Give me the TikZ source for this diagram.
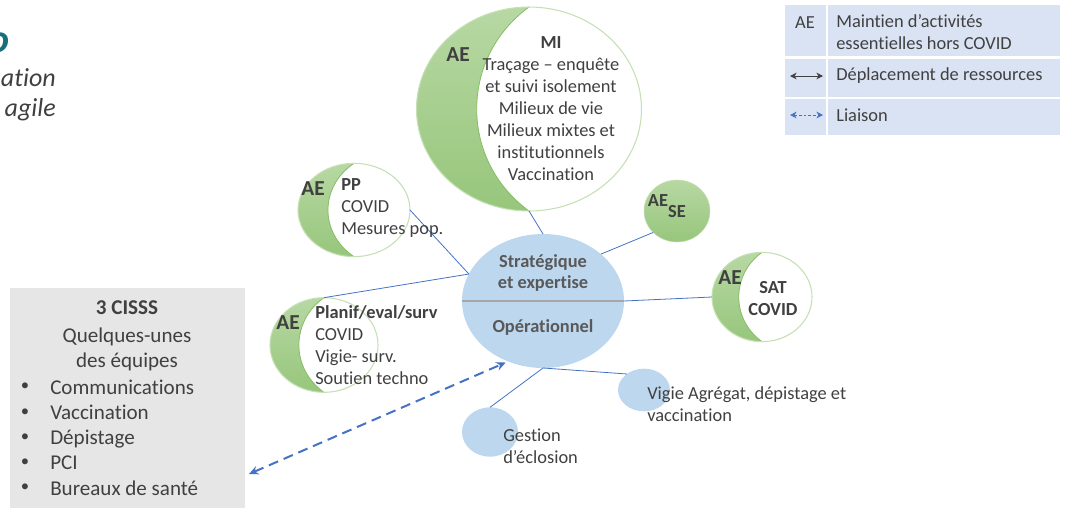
\documentclass[tikz,border=0pt]{standalone}
\usepackage{fontspec}
\setmainfont[Ligatures=NoCommon]{Carlito}
\usepackage{tikz}
\usetikzlibrary{positioning}
\usetikzlibrary{shapes.geometric}
\usetikzlibrary{calc}
\usetikzlibrary{arrows.meta}

\definecolor{txtgrey}{HTML}{404040}
\definecolor{ctrgrey}{HTML}{595959}
\definecolor{ctrblue}{HTML}{BDD7EE}
\definecolor{linkblue}{HTML}{4472C4}
\definecolor{moonline}{HTML}{C5E0B4}
\definecolor{moonedge}{HTML}{86BE63}
\definecolor{aetop}{HTML}{B7D8A3}
\definecolor{aebot}{HTML}{97C67C}
\definecolor{boxgrey}{HTML}{E7E6E6}
\definecolor{legblue}{HTML}{DAE3F3}
\definecolor{titleteal}{HTML}{17707A}

\tikzset{bubble/.style={ellipse,inner sep=0pt,outer sep=0pt}}
\tikzset{moon/.style={bubble,draw=moonline,line width=0.8pt,fill=white,
  path picture={
    \shade[top color=aetop,bottom color=aebot]
      let \p1=(path picture bounding box.south west),
          \p2=(path picture bounding box.north east) in
      ({0.5*\x1+0.5*\x2},\y2) -- (\x1,\y2) -- (\x1,\y1) -- ({0.5*\x1+0.5*\x2},\y1)
      .. controls ({0.81*\x1+0.19*\x2},{0.75*\y1+0.25*\y2}) and ({0.81*\x1+0.19*\x2},{0.25*\y1+0.75*\y2}) .. ({0.5*\x1+0.5*\x2},\y2) -- cycle;
    \draw[moonedge,line width=0.6pt]
      let \p1=(path picture bounding box.south west),
          \p2=(path picture bounding box.north east) in
      ({0.5*\x1+0.5*\x2},\y1)
      .. controls ({0.81*\x1+0.19*\x2},{0.75*\y1+0.25*\y2}) and ({0.81*\x1+0.19*\x2},{0.25*\y1+0.75*\y2}) .. ({0.5*\x1+0.5*\x2},\y2);}}}
\tikzset{txt/.style={font=\fontsize{13.8}{16.5}\selectfont,text=txtgrey,inner sep=0pt,align=center}}
\tikzset{aelbl/.style={font=\fontsize{16}{19}\selectfont\bfseries,text=txtgrey,inner sep=0pt}}
\tikzset{ctrtxt/.style={txt,font=\fontsize{13.8}{16}\selectfont\bfseries,text=ctrgrey}}
\tikzset{boxtxt/.style={font=\fontsize{15.8}{18.9}\selectfont,text=txtgrey,inner sep=0pt,align=center}}
\tikzset{legcell/.style={rectangle,fill=legblue,inner sep=0pt,outer sep=0pt}}
\tikzset{lien/.style={draw=linkblue,line width=0.6pt}}
\tikzset{liaison/.style={{Stealth[length=7pt,width=6.5pt]}-{Stealth[length=7pt,width=6.5pt]},draw=linkblue,line width=1.5pt,dash pattern=on 7.5pt off 4.5pt}}
\tikzset{deplace/.style={{Stealth[length=5pt,width=5pt]}-{Stealth[length=5pt,width=5pt]},draw=txtgrey,line width=0.7pt}}

\newcommand{\puce}{{\fontsize{12.5}{12.5}\selectfont\textbullet}}

\begin{document}
\begin{tikzpicture}[x=0.75pt,y=-0.75pt]
		\useasboundingbox (0,0) rectangle (1067,508);

		% bits of the slide title
		\node[anchor=east,inner sep=0pt,font=\fontsize{30}{36}\selectfont\bfseries\itshape,text=titleteal] (frag0) at (10,43) {o};
		\node[anchor=east,inner sep=0pt,font=\fontsize{19.5}{23}\selectfont\itshape,text=txtgrey] (frag1) at (56,78) {ation};
		\node[anchor=east,inner sep=0pt,font=\fontsize{19.5}{23}\selectfont\itshape,text=txtgrey] (frag2) at (56,110) {agile};

		% bubbles
		\node[moon,minimum width=168.75pt,minimum height=153pt] (mi) at (529,109) {};
		\node[moon,minimum width=84pt,minimum height=70pt] (pp) at (354,210) {};
		\node[moon,minimum width=81pt,minimum height=71pt] (pl) at (324,345) {};
		\node[moon,minimum width=75pt,minimum height=67pt] (sat) at (762,297) {};
		\node[bubble,top color=aetop,bottom color=aebot,draw=moonline,minimum width=49.5pt,minimum height=46.5pt] (se) at (677,211) {};
		\node[bubble,fill=ctrblue,minimum width=121.5pt,minimum height=100.5pt] (ctr) at (543,301) {};
		\node[bubble,fill=ctrblue,minimum width=39pt,minimum height=32pt] (vg) at (644,390) {};
		\node[bubble,fill=ctrblue,minimum width=42pt,minimum height=37pt] (ge) at (490,432) {};

		\draw[line width=1.5pt,draw=black!35] (ctr.west) -- (ctr.east);

		% links to the centre
		\draw[lien] (mi.south) -- (ctr.north);
		\draw[lien] (pp.east) -- (ctr.160);
		\draw[lien] (pl.north) -- (ctr.160);
		\draw[lien] (se.222) -- (ctr.39);
		\draw[lien] (ctr.east) -- (sat.west);
		\draw[lien] (ctr.south) -- (vg.137);
		\draw[lien] (ctr.south) -- (ge.north);

		% texts
		\node[aelbl] (aemi) at (458,55) {AE};
		\node[txt] (mitxt) at (551,109) {\textbf{MI}\\Traçage – enquête\\et suivi isolement\\Milieux de vie\\Milieux mixtes et\\institutionnels\\Vaccination};
		\node[aelbl] (aepp) at (313,189) {AE};
		\node[txt,align=left,anchor=west] (pptxt) at (341,208.5) {\textbf{PP}\\COVID\\Mesures pop.};
		\node[aelbl] (aepl) at (288,323) {AE};
		\node[txt,align=left,anchor=west] (pltxt) at (315,345) {\textbf{Planif/eval/surv}\\COVID\\Vigie- surv.\\Soutien techno};
		\node[aelbl] (aesat) at (730,278) {AE};
		\node[txt,font=\fontsize{13.8}{16.5}\selectfont\bfseries] (sattxt) at (773,299) {SAT\\COVID};
		\node[txt,font=\fontsize{13.8}{16.5}\selectfont\bfseries] (aese) at (658,201) {AE};
		\node[txt,font=\fontsize{13.8}{16.5}\selectfont\bfseries] (setxt) at (677,212) {SE};
		\node[ctrtxt] (strat) at (543,273) {Stratégique\\et expertise};
		\node[ctrtxt] (oper) at (543,327) {Opérationnel};
		\node[txt,align=left,anchor=west] (vgtxt) at (647,404) {Vigie Agrégat, dépistage et\\vaccination};
		\node[txt,align=left,anchor=west] (getxt) at (503,446) {Gestion\\d’éclosion};

		% 3 CISSS
		\node[rectangle,fill=boxgrey,inner sep=0pt,minimum width=176.25pt,minimum height=165pt] (cisss) at (127.5,398) {};
		\node[boxtxt,font=\fontsize{15.8}{18.9}\selectfont\bfseries] (cisstit) at (127,308) {3 CISSS};
		\node[boxtxt] (cisssub) at (127,349.5) {Quelques-unes\\des équipes};
		\node[boxtxt] (puces) at (25,437.5) {\puce\\\puce\\\puce\\\puce\\\puce};
		\node[boxtxt,align=left,anchor=west] (equipes) at (50,437.5) {Communications\\Vaccination\\Dépistage\\PCI\\Bureaux de santé};

		\coordinate (lienbas) at (249,474);
		\draw[liaison,shorten >=2pt] (lienbas) -- (ctr.240);

		% legend
		\node[legcell,minimum width=30.75pt,minimum height=38.25pt] (l1a) at (805.5,30.5) {};
		\node[legcell,minimum width=174pt,minimum height=38.25pt] (l1b) at (944,30.5) {};
		\node[legcell,minimum width=30.75pt,minimum height=28.5pt] (l2a) at (805.5,78) {};
		\node[legcell,minimum width=174pt,minimum height=28.5pt] (l2b) at (944,78) {};
		\node[legcell,minimum width=30.75pt,minimum height=27pt] (l3a) at (805.5,117) {};
		\node[legcell,minimum width=174pt,minimum height=27pt] (l3b) at (944,117) {};

		\node[txt] (legae) at (805,23) {AE};
		\node[txt,align=left,anchor=west] (leg1) at (836,32.5) {Maintien d’activités\\essentielles hors COVID};
		\node[txt,anchor=west] (leg2) at (836,76) {Déplacement de ressources};
		\node[txt,anchor=west] (leg3) at (836,115) {Liaison};
		\draw[deplace,shorten <=3.75pt,shorten >=2.25pt] ([yshift=1.5pt]l2a.west) -- ([yshift=1.5pt]l2a.east);
		\draw[{Stealth[length=5pt,width=5pt]}-{Stealth[length=5pt,width=5pt]},draw=linkblue,line width=0.7pt,dash pattern=on 2pt off 1.5pt,shorten <=3.75pt,shorten >=2.25pt] ([yshift=1.5pt]l3a.west) -- ([yshift=1.5pt]l3a.east);
	\end{tikzpicture}
\end{document}
